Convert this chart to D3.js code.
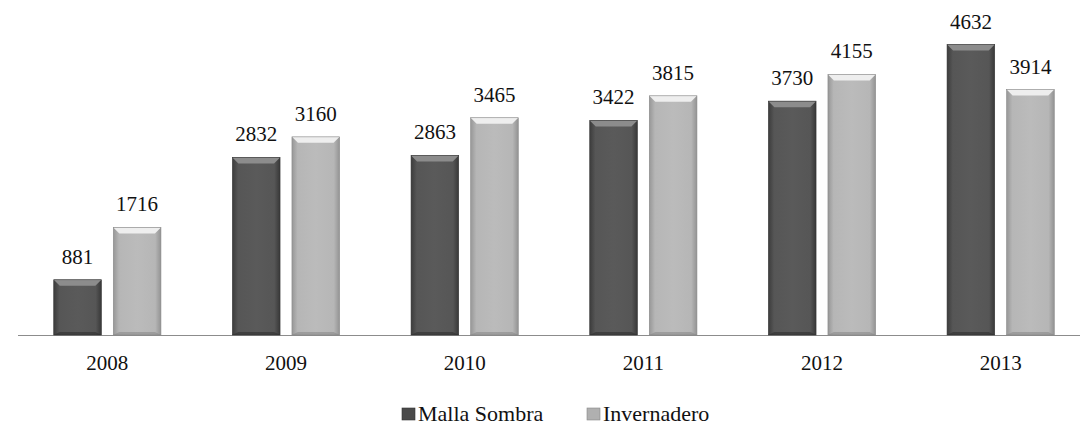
<!DOCTYPE html>
<html>
<head>
<meta charset="utf-8">
<script src="https://cdn.jsdelivr.net/npm/d3@7"></script>
<style>
  body { margin: 0; background: #fff; }
</style>
</head>
<body>
<div id="chart"></div>
<script>
const years = ['2008', '2009', '2010', '2011', '2012', '2013'];
const mallaSombra = [881, 2832, 2863, 3422, 3730, 4632];
const invernadero = [1716, 3160, 3465, 3815, 4155, 3914];
const seriesNames = ['Malla Sombra', 'Invernadero'];

const W = 1080, H = 427;
const baseY = 335;
const FONT = "'Times New Roman', 'Liberation Serif', Tinos, 'DejaVu Serif', serif";

const svg = d3.select('#chart').append('svg')
  .attr('width', W).attr('height', H)
  .style('font-family', FONT);

const defs = svg.append('defs');
function grad(id, stops) {
  const g = defs.append('linearGradient').attr('id', id)
    .attr('x1', 0).attr('x2', 1).attr('y1', 0).attr('y2', 0);
  stops.forEach(([o, c]) => g.append('stop').attr('offset', o).attr('stop-color', c));
}
grad('gDark', [[0, '#3c3c3c'], [0.12, '#565656'], [0.5, '#5a5a5a'], [0.88, '#565656'], [1, '#383838']]);
grad('gLight', [[0, '#979797'], [0.12, '#b6b6b6'], [0.5, '#bbbbbb'], [0.88, '#b6b6b6'], [1, '#939393']]);

const x0 = d3.scaleBand().domain(years).range([18, 1090]);
const x1 = d3.scaleBand().domain(seriesNames).range([0, x0.bandwidth()]).paddingInner(0.2).paddingOuter(0.6);
const y = d3.scaleLinear().domain([0, 5000]).range([baseY, baseY - 313.5]);

const styles = {
  'Malla Sombra': { fill: 'url(#gDark)', top: '#8c8c8c', bottom: '#2e2e2e', edge: '#333', legend: '#4a4a4a' },
  'Invernadero': { fill: 'url(#gLight)', top: '#eeeeee', bottom: '#8a8a8a', edge: '#888', legend: '#b0b0b0' }
};

const rows = [];
years.forEach((yr, i) => {
  rows.push({ year: yr, series: 'Malla Sombra', value: mallaSombra[i] });
  rows.push({ year: yr, series: 'Invernadero', value: invernadero[i] });
});

// axis line
svg.append('line')
  .attr('x1', 18).attr('x2', 1080)
  .attr('y1', baseY + 0.5).attr('y2', baseY + 0.5)
  .attr('stroke', '#8c8c8c').attr('stroke-width', 1.2);

const bars = svg.append('g').selectAll('g.bar').data(rows).join('g').attr('class', 'bar');
bars.each(function(d) {
  const g = d3.select(this);
  const bx = x0(d.year) + x1(d.series);
  const bw = x1.bandwidth();
  const top = y(d.value);
  const h = baseY - top;
  const s = styles[d.series];
  const b = 6;
  g.append('rect').attr('x', bx).attr('y', top).attr('width', bw).attr('height', h)
    .attr('fill', s.fill);
  // top bevel
  g.append('polygon')
    .attr('points', [[bx, top], [bx + bw, top], [bx + bw - b, top + b], [bx + b, top + b]].map(p => p.join(',')).join(' '))
    .attr('fill', s.top);
  // bottom bevel
  g.append('polygon')
    .attr('points', [[bx, baseY], [bx + bw, baseY], [bx + bw - b, baseY - 3], [bx + b, baseY - 3]].map(p => p.join(',')).join(' '))
    .attr('fill', s.bottom).attr('opacity', 0.6);
  g.append('rect').attr('x', bx).attr('y', top).attr('width', bw).attr('height', h)
    .attr('fill', 'none').attr('stroke', s.edge).attr('stroke-width', 0.6);
  g.append('text')
    .attr('x', bx + bw / 2).attr('y', top - 16)
    .attr('text-anchor', 'middle')
    .style('font-family', FONT)
    .attr('font-size', 21).attr('fill', '#111')
    .text(d.value);
});

// category labels
svg.append('g').selectAll('text').data(years).join('text')
  .attr('x', d => x0(d) + x0.bandwidth() / 2)
  .attr('y', 370)
  .attr('text-anchor', 'middle')
  .style('font-family', FONT)
  .attr('font-size', 21).attr('fill', '#111')
  .text(d => d);

// legend
const legendX = [402, 587];
const leg = svg.append('g').selectAll('g').data(seriesNames).join('g')
  .attr('transform', (d, i) => `translate(${legendX[i]},414)`);
leg.append('rect').attr('x', 0).attr('y', -6).attr('width', 13).attr('height', 12)
  .attr('fill', d => styles[d].legend).attr('stroke', d => styles[d].edge).attr('stroke-width', 0.6);
leg.append('text').attr('x', 16).attr('y', 7)
  .style('font-family', FONT)
  .attr('font-size', 22).attr('fill', '#111')
  .text(d => d);
</script>
</body>
</html>
